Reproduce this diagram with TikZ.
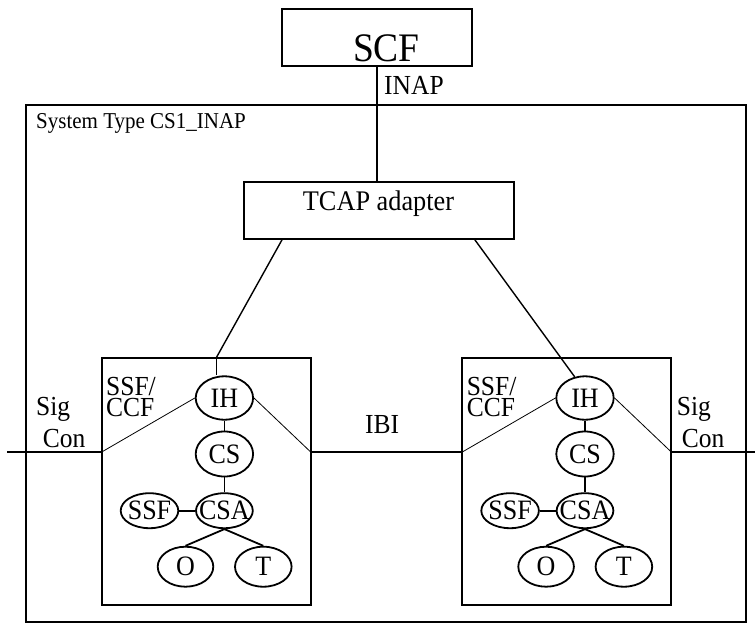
\documentclass[tikz,border=0pt]{standalone}
\usepackage{fontspec}
\setmainfont{Liberation Serif}
\usetikzlibrary{shapes.geometric}
\newcommand\fsz[1]{\fontsize{#1}{#1}\selectfont}
\newcommand\vst[1]{\scalebox{1}[1.08]{#1}}
\tikzset{
  box/.style={draw, rectangle, line width=2pt, inner sep=0pt},
  elp/.style={draw, ellipse, line width=1.8pt, inner sep=0pt},
  txt/.style={inner sep=0pt, anchor=base west, font=\fsz{25.5}},
  etxt/.style={inner sep=0pt, font=\fsz{26}},
  conn/.style={line width=1.8pt},
  thinln/.style={line width=0.8pt},
  diag/.style={line width=1.4pt}
}
\newcommand\ssfunit[2]{%
\begin{scope}[xshift=#2]
\node[box, minimum width=209pt, minimum height=247pt] (#1box) at (206.2,481.5) {};
\node[txt] (#1lbla) at (106,395) {\vst{SSF/}};
\node[txt] (#1lblb) at (106,416) {\vst{CCF}};
\node[elp, minimum width=57.4pt, minimum height=43.4pt] (#1ih) at (224.4,398) {};
\node[etxt] (#1iht) at (#1ih) {\vst{IH}};
\node[elp, minimum width=57.4pt, minimum height=45pt] (#1cs) at (224.4,454) {};
\node[etxt] (#1cst) at (#1cs) {\vst{CS}};
\node[elp, minimum width=56.8pt, minimum height=35pt] (#1csa) at (224.4,510.7) {};
\node[etxt] (#1csat) at (#1csa) {\vst{CSA}};
\node[elp, minimum width=57.6pt, minimum height=35pt] (#1ssf) at (149.5,510.7) {};
\node[etxt] (#1ssft) at (#1ssf) {\vst{SSF}};
\node[elp, minimum width=55.6pt, minimum height=40pt] (#1o) at (185.5,566.7) {};
\node[etxt] (#1ot) at (#1o) {\vst{O}};
\node[elp, minimum width=56.6pt, minimum height=40pt] (#1t) at (263.3,566.7) {};
\node[etxt] (#1tt) at (#1t) {\vst{T}};
\coordinate (#1L) at (101.7,452);
\coordinate (#1R) at (310.7,452);
\draw[conn] (#1ih.south) -- (#1cs.north);
\draw[conn] (#1cs.south) -- (#1csa.north);
\draw[conn] (#1ssf.east) -- (#1csa.west);
\draw[conn] (#1csa.south) -- (#1o.north);
\draw[conn] (#1csa.south) -- (#1t.north);
\draw[thinln] (#1L) -- (#1ih.west);
\draw[thinln] (#1ih.east) -- (#1R);
\end{scope}}
\begin{document}
\begin{tikzpicture}[x=1pt, y=-1pt]
\useasboundingbox (0,0) rectangle (755,624);
% SCF
\node[box, minimum width=190pt, minimum height=56.7pt] (scf) at (377.3,37.3) {};
\node[inner sep=0pt, anchor=base west, font=\fsz{37.5}] (scft) at (352.8,61.7) {\vst{SCF}};
\node[txt] (inap) at (384,94.3) {\vst{INAP}};
% system box
\node[box, minimum width=719.7pt, minimum height=517pt] (sys) at (385.85,363.5) {};
\node[inner sep=0pt, anchor=base west, font=\fsz{21}] (systxt) at (36,128.3) {\vst{System Type CS1\_INAP}};
% TCAP
\node[box, minimum width=270pt, minimum height=57.6pt] (tcap) at (379,210.5) {};
\node[inner sep=0pt, anchor=base west, font=\fsz{26.3}] (tcapt) at (302.7,210.7) {\vst{TCAP adapter}};
\draw[conn] (scf.south) -- (scf.south |- tcap.north);
% SSF/CCF units
\ssfunit{l}{0pt}
\ssfunit{r}{360.6pt}
% labels
\node[txt] (sigl) at (36,415) {\vst{Sig}};
\node[txt] (conl) at (42.7,447.7) {\vst{Con}};
\node[txt] (sigr) at (676.7,415) {\vst{Sig}};
\node[txt] (conr) at (681.7,447.7) {\vst{Con}};
\node[txt] (ibi) at (365,433.3) {\vst{IBI}};
% outer connections
\coordinate (farL) at (7.3,452);
\coordinate (farR) at (755,452);
\draw[conn] (farL) -- (lL);
\draw[conn] (lR) -- (rL);
\draw[conn] (rR) -- (farR);
% TCAP to IH
\coordinate (ta) at (282.3,239.3);
\coordinate (tb) at (474.5,239.3);
\coordinate (lbend) at (216.3,357.7);
\draw[diag] (ta) -- (lbend);
\draw[thinln] (lbend) -- (lbend |- lih.north);
\draw[diag] (tb) -- (rih.116);
\end{tikzpicture}
\end{document}
